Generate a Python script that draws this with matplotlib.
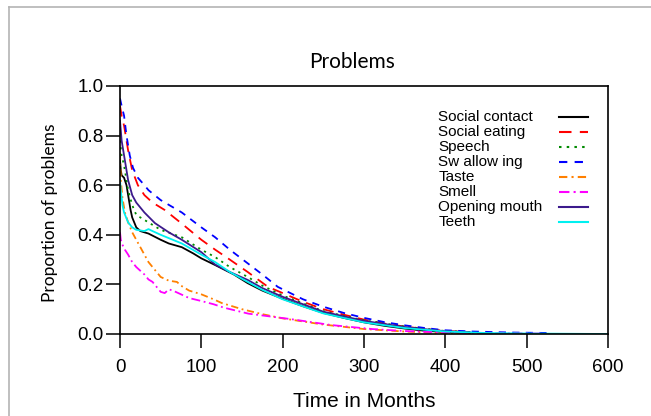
import matplotlib
matplotlib.use("Agg")
import matplotlib.pyplot as plt
from matplotlib.lines import Line2D

# ---------------- data ----------------
labels = ["Social contact", "Social eating", "Speech", "Sw allow ing",
          "Taste", "Smell", "Opening mouth", "Teeth"]

social_contact_t = [0, 1, 2, 5, 8, 10, 13, 15, 20, 25, 30, 35, 50, 60, 76, 90, 100, 117,
                    140, 157, 175, 200, 225, 250, 275, 300, 325, 350, 375, 400, 430]
social_contact = [0.70, 0.66, 0.64, 0.63, 0.60, 0.56, 0.50, 0.47, 0.43, 0.415, 0.41, 0.405,
                  0.38, 0.365, 0.35, 0.325, 0.305, 0.278, 0.24, 0.205, 0.175, 0.142, 0.112,
                  0.085, 0.065, 0.047, 0.033, 0.022, 0.013, 0.008, 0.005]

social_eating_t = [0, 2, 5, 10, 15, 22, 30, 40, 55, 76, 100, 117, 135, 157, 182, 200,
                   225, 250, 275, 300, 325, 350, 375, 400, 430]
social_eating = [0.92, 0.88, 0.84, 0.74, 0.66, 0.60, 0.56, 0.53, 0.50, 0.445, 0.38, 0.34,
                 0.30, 0.25, 0.19, 0.165, 0.13, 0.10, 0.078, 0.058, 0.042, 0.03, 0.02,
                 0.012, 0.008]

speech_t = [0, 2, 5, 10, 15, 20, 30, 35, 50, 76, 100, 117, 135, 157, 175, 200, 250,
            300, 350, 400, 430]
speech = [0.78, 0.72, 0.68, 0.58, 0.52, 0.48, 0.46, 0.45, 0.42, 0.39, 0.34, 0.31, 0.27,
          0.23, 0.195, 0.155, 0.092, 0.055, 0.03, 0.012, 0.008]

swallowing_t = [0, 2, 5, 8, 12, 16, 22, 30, 35, 50, 76, 100, 117, 135, 157, 175, 194,
                225, 250, 275, 300, 325, 350, 375, 400, 434, 480, 530]
swallowing = [0.95, 0.92, 0.88, 0.80, 0.72, 0.67, 0.63, 0.60, 0.58, 0.54, 0.49, 0.43,
              0.39, 0.34, 0.285, 0.24, 0.19, 0.14, 0.11, 0.085, 0.065, 0.048, 0.035,
              0.024, 0.015, 0.01, 0.006, 0.004]

taste_t = [0, 1, 3, 6, 10, 15, 20, 25, 30, 35, 40, 45, 50, 60, 70, 75, 85, 100, 115,
           125, 150, 175, 200, 250, 300, 350, 400, 420]
taste = [0.73, 0.62, 0.55, 0.49, 0.45, 0.41, 0.38, 0.35, 0.32, 0.29, 0.27, 0.25, 0.23,
         0.215, 0.21, 0.195, 0.175, 0.16, 0.14, 0.125, 0.10, 0.08, 0.063, 0.038, 0.02,
         0.01, 0.004, 0.002]

smell_t = [0, 1, 3, 6, 10, 15, 20, 25, 30, 35, 40, 45, 50, 55, 60, 65, 75, 85, 100,
           115, 128, 158, 210, 260, 310, 350, 400, 450, 520]
smell = [0.41, 0.38, 0.36, 0.34, 0.32, 0.29, 0.27, 0.255, 0.24, 0.22, 0.21, 0.19, 0.17,
         0.165, 0.18, 0.175, 0.16, 0.145, 0.133, 0.12, 0.106, 0.082, 0.06, 0.036, 0.02,
         0.012, 0.006, 0.003, 0.002]

opening_mouth_t = [0, 2, 5, 10, 15, 20, 30, 43, 60, 76, 100, 117, 135, 157, 175, 200,
                   250, 300, 350, 400, 430]
opening_mouth = [0.86, 0.78, 0.72, 0.62, 0.56, 0.53, 0.49, 0.447, 0.41, 0.38, 0.33,
                 0.28, 0.25, 0.218, 0.185, 0.15, 0.09, 0.053, 0.028, 0.011, 0.007]

teeth_t = [0, 1, 3, 5, 10, 15, 20, 30, 35, 40, 50, 76, 100, 117, 135, 157, 175, 200,
           250, 300, 350, 400, 450, 500, 600]
teeth = [0.62, 0.58, 0.52, 0.49, 0.45, 0.43, 0.42, 0.415, 0.423, 0.415, 0.40, 0.365, 0.32,
         0.29, 0.25, 0.21, 0.178, 0.14, 0.083, 0.047, 0.024, 0.01, 0.004, 0.002, 0.0]

xticks = [0, 100, 200, 300, 400, 500, 600]
yticks = [0.0, 0.2, 0.4, 0.6, 0.8, 1.0]

# ---------------- styles ----------------
styles = [
    dict(color="#000000", linestyle="-"),
    dict(color="#ff0000", linestyle=(0, (6, 4))),
    dict(color="#008a00", linestyle=(0, (1.2, 2.5))),
    dict(color="#0000ff", linestyle=(0, (4, 3.5))),
    dict(color="#ff8000", linestyle=(0, (4, 2, 1, 2))),
    dict(color="#ff00ff", linestyle=(0, (5, 2, 1, 2))),
    dict(color="#3c1a8c", linestyle="-"),
    dict(color="#00f0f0", linestyle="-"),
]

series = [(social_contact_t, social_contact), (social_eating_t, social_eating),
          (speech_t, speech), (swallowing_t, swallowing), (taste_t, taste),
          (smell_t, smell), (opening_mouth_t, opening_mouth), (teeth_t, teeth)]

plt.rcParams["font.family"] = ["Liberation Sans", "DejaVu Sans"]

fig = plt.figure(figsize=(6.51, 4.16), dpi=100)
ax = fig.add_axes([120 / 651, 1 - 334 / 416, 488 / 651, 248 / 416])

draw_order = [5, 4, 7, 0, 2, 6, 1, 3]
for i in draw_order:
    t, v = series[i]
    ax.plot(t, v, linewidth=1.3, **styles[i], zorder=2 + i * 0.01)

ax.set_xlim(0, 600)
ax.set_ylim(0, 1.0)
ax.set_xticks(xticks)
ax.set_yticks(yticks)
ax.set_yticklabels([f"{y:.1f}" for y in yticks])
ax.tick_params(direction="out", length=10, width=1.1, labelsize=13.5, pad=2,
               colors="#000000")
ax.tick_params(axis="x", pad=8)
for s in ax.spines.values():
    s.set_linewidth(1.2)
    s.set_color("#000000")

# legend drawn as text + sample lines (right-hand sample column)
for i, lab in enumerate(labels):
    yy = (334 - (117 + 15 * i)) / 248
    ax.text(0.652, yy, lab, transform=ax.transAxes, fontsize=11, ha="left",
            va="center", family=["Liberation Sans"])
    ax.add_line(Line2D([0.90, 0.958], [yy, yy], transform=ax.transAxes,
                       linewidth=1.5, **styles[i]))

ax.set_xlabel("Time in Months", fontsize=15, family=["Liberation Sans"])
ax.xaxis.set_label_coords(0.5, (334 - 392) / 248)
ax.set_ylabel("Proportion of problems", fontsize=12.5, family=["Lato", "DejaVu Sans"])
ax.yaxis.set_label_coords((58 - 120) / 488, 0.49)

fig.text(352 / 651, 1 - 62 / 416, "Problems", fontsize=15, ha="center", va="center",
         family=["Lato", "DejaVu Sans"])

# outer frame lines of the screenshot
fig.add_artist(Line2D([8.5 / 651, 1.0], [1 - 6.5 / 416, 1 - 6.5 / 416],
                      transform=fig.transFigure, color="#b4b4b4", linewidth=1.2))
fig.add_artist(Line2D([8.5 / 651, 8.5 / 651], [0.0, 1 - 6.5 / 416],
                      transform=fig.transFigure, color="#b4b4b4", linewidth=1.2))

fig.savefig("out.png", dpi=100)
